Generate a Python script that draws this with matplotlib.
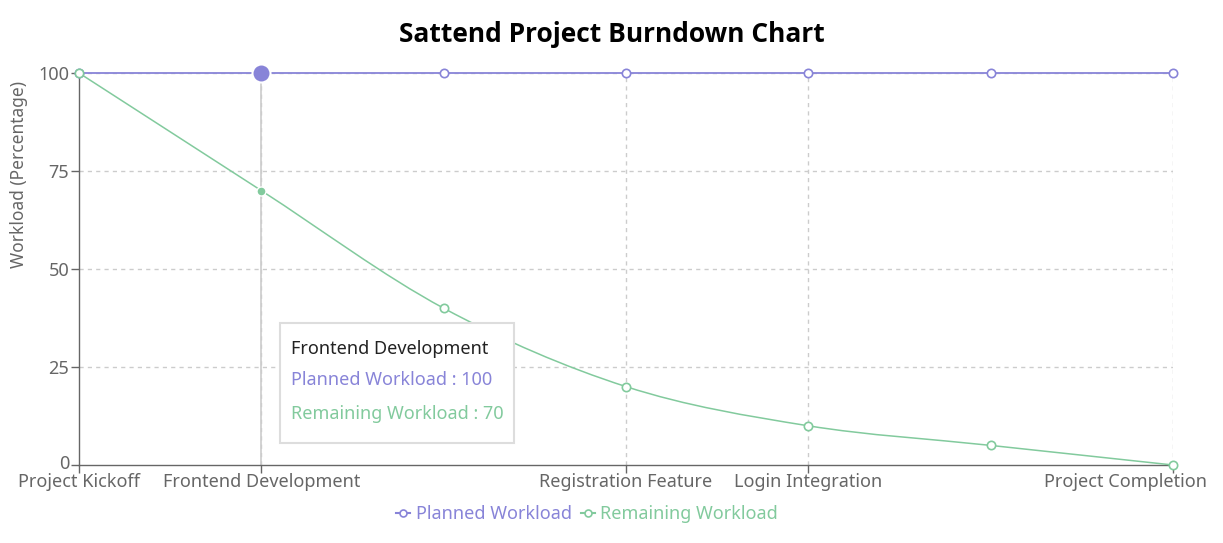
import numpy as np
import matplotlib
matplotlib.use('Agg')
import matplotlib.pyplot as plt
import matplotlib.transforms as mtransforms
from matplotlib.path import Path
from matplotlib.patches import PathPatch, FancyBboxPatch
from matplotlib.lines import Line2D

plt.rcParams['font.family'] = ['Noto Sans', 'DejaVu Sans']

# data
stages = ['Project Kickoff', 'Frontend Development', '', 'Registration Feature',
          'Login Integration', '', 'Project Completion']
planned = [100, 100, 100, 100, 100, 100, 100]
remaining = [100, 70, 40, 20, 10, 5, 0]
shown_ticks = [0, 1, 3, 4, 6]
y_ticks = [0, 25, 50, 75, 100]
active = 1

purple = '#8884d8'
green = '#82ca9d'
axis_grey = '#666666'


def monotone_path(xs, ys):
    # d3 curveMonotoneX style cubic segments
    xs = np.asarray(xs, float)
    ys = np.asarray(ys, float)
    n = len(xs)
    h = np.diff(xs)
    s = np.diff(ys) / h
    t = np.zeros(n)
    for i in range(1, n - 1):
        p = (s[i - 1] * h[i] + s[i] * h[i - 1]) / (h[i - 1] + h[i])
        t[i] = (np.sign(s[i - 1]) + np.sign(s[i])) * min(abs(s[i - 1]), abs(s[i]), 0.5 * abs(p))
    t[0] = (3 * s[0] - t[1]) / 2
    t[-1] = (3 * s[-1] - t[-2]) / 2
    verts = [(xs[0], ys[0])]
    codes = [Path.MOVETO]
    for i in range(n - 1):
        dx = (xs[i + 1] - xs[i]) / 3
        verts += [(xs[i] + dx, ys[i] + dx * t[i]),
                  (xs[i + 1] - dx, ys[i + 1] - dx * t[i + 1]),
                  (xs[i + 1], ys[i + 1])]
        codes += [Path.CURVE4] * 3
    return Path(verts, codes)


fig = plt.figure(figsize=(12.23, 5.43), dpi=100)
ax = fig.add_axes([79 / 1223, 1 - 465 / 543, (1173 - 79) / 1223, (465 - 73) / 543])

x = np.arange(len(stages))
ax.set_xlim(0, len(stages) - 1)
ax.set_ylim(0, 100)

# grid
for yt in y_ticks[1:]:
    ax.axhline(yt, color='#cccccc', lw=1, ls=(0, (3, 3)), zorder=1)
for i in shown_ticks[1:]:
    ax.axvline(i, color='#cccccc', lw=1, ls=(0, (3, 3)), zorder=1)

# hover cursor
ax.axvline(active, color='#cccccc', lw=1.2, zorder=2)

# lines
ax.plot(x, planned, color=purple, lw=1.3, zorder=3, clip_on=False)
ax.add_patch(PathPatch(monotone_path(x, remaining), fill=False, edgecolor=green,
                       lw=1.1, zorder=3, clip_on=False))

for ser, col in [(planned, purple), (remaining, green)]:
    idx = [i for i in range(len(x)) if i != active]
    ax.plot(x[idx], np.array(ser)[idx], ls='none', marker='o', ms=6,
            mfc='white', mec=col, mew=1.2, zorder=5, clip_on=False)
ax.plot(x[active], planned[active], marker='o', ms=13, color=purple,
        mec='white', mew=1.5, zorder=6, clip_on=False)
ax.plot(x[active], remaining[active], marker='o', ms=6.5, color=green,
        mec='white', mew=1, zorder=6, clip_on=False)

# axes styling
for side in ['top', 'right']:
    ax.spines[side].set_visible(False)
for side in ['left', 'bottom']:
    ax.spines[side].set_color(axis_grey)
    ax.spines[side].set_linewidth(1)
ax.set_yticks(y_ticks)
ax.set_yticklabels([str(v) for v in y_ticks])
ax.set_xticks(shown_ticks)
ax.set_xticklabels([stages[i] for i in shown_ticks])
ax.tick_params(axis='both', colors=axis_grey, labelcolor=axis_grey,
               labelsize=13, length=6, width=1)
ax.tick_params(axis='x', pad=0)
ax.tick_params(axis='y', pad=1)

# last label is pushed inside the figure like in the reference
last = ax.get_xticklabels()[-1]
last.set_transform(last.get_transform() +
                   mtransforms.ScaledTranslation(-48 / 100, 0, fig.dpi_scale_trans))
# nudge the "0" up a bit so it clears the first category label
zero = ax.get_yticklabels()[0]
zero.set_transform(zero.get_transform() +
                   mtransforms.ScaledTranslation(0, 3 / 100, fig.dpi_scale_trans))

fig.text(19 / 1223, 1 - 175 / 543, 'Workload (Percentage)', rotation=90,
         ha='center', va='center', fontsize=12.5, color=axis_grey)

fig.text(0.5, 1 - 34 / 543, 'Sattend Project Burndown Chart', ha='center',
         va='center', fontsize=19, fontweight='bold', color='black',
         family=['Open Sans', 'DejaVu Sans'])

# tooltip
bx0, by0, bx1, by1 = 280 / 1223, 1 - 443 / 543, 514 / 1223, 1 - 323 / 543
fig.patches.append(FancyBboxPatch((bx0, by0), bx1 - bx0, by1 - by0,
                                  boxstyle='square,pad=0', transform=fig.transFigure,
                                  facecolor='white', edgecolor='#dddddd', lw=1.5,
                                  zorder=10))
tx = 291 / 1223
fig.text(tx, 1 - 349 / 543, stages[active], fontsize=13, color='#222222',
         va='center', zorder=11)
fig.text(tx, 1 - 380 / 543, 'Planned Workload : %d' % planned[active],
         fontsize=13, color=purple, va='center', zorder=11)
fig.text(tx, 1 - 414 / 543, 'Remaining Workload : %d' % remaining[active],
         fontsize=13, color=green, va='center', zorder=11)

# legend
handles = [Line2D([], [], color=purple, lw=1.5, marker='o', ms=5, mfc='white', mew=1.2),
           Line2D([], [], color=green, lw=1.5, marker='o', ms=5, mfc='white', mew=1.2)]
leg = fig.legend(handles, ['Planned Workload', 'Remaining Workload'], loc='center',
                 bbox_to_anchor=(587 / 1223, 1 - 514 / 543), ncol=2, frameon=False,
                 fontsize=13, handlelength=0.8, handletextpad=0.3, columnspacing=0.5)
for txt, col in zip(leg.get_texts(), [purple, green]):
    txt.set_color(col)

fig.savefig('out.png', dpi=100)
